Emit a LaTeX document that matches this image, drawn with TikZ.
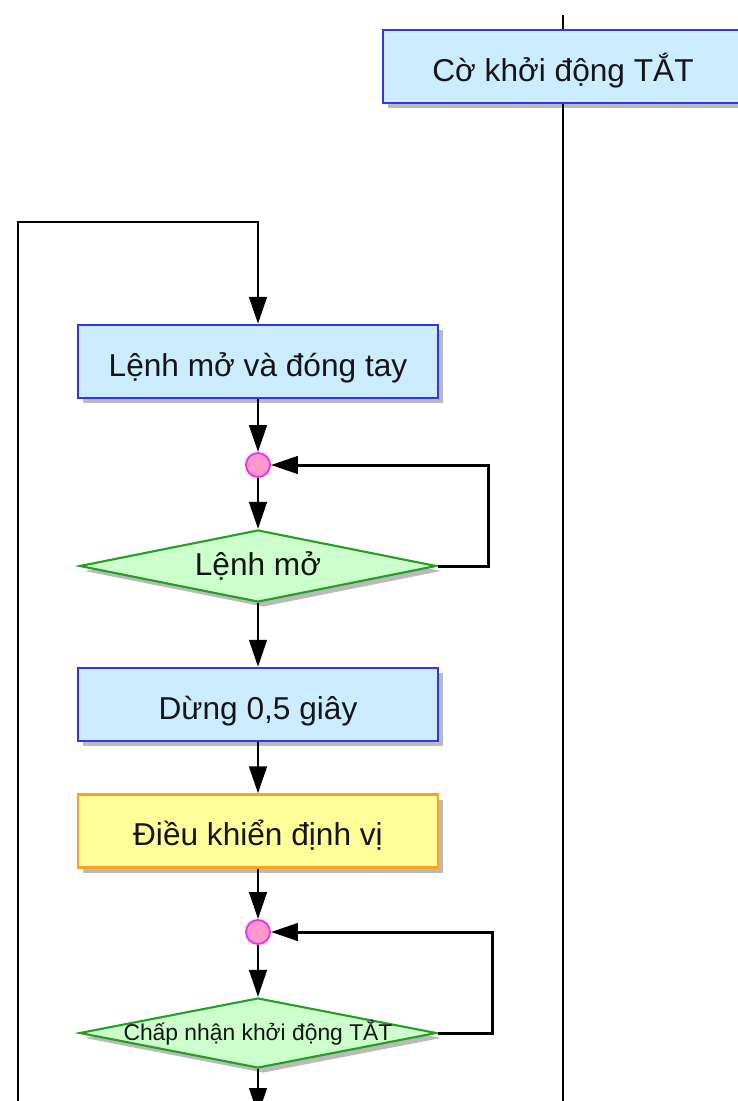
\documentclass[tikz,border=0pt]{standalone}
\usepackage{fontspec}
\setmainfont{Liberation Sans}
\usetikzlibrary{arrows.meta,positioning,shapes.geometric,shadows}
\definecolor{skyfill}{HTML}{CCECFF}
\definecolor{skyline}{HTML}{3333F5}
\definecolor{mintfill}{HTML}{CCFFCC}
\definecolor{mintline}{HTML}{22A022}
\definecolor{lemonfill}{HTML}{FFFF99}
\definecolor{amberline}{HTML}{FFA020}
\definecolor{pinkfill}{HTML}{FF99CC}
\definecolor{pinkline}{HTML}{F030F0}
\definecolor{inktext}{HTML}{151515}
\tikzset{
  softshadow/.style={
    drop shadow={shadow xshift=0.1cm,shadow yshift=-0.1cm,fill=black!45,opacity=0.6}
  },
  procbox/.style={
    draw=skyline,
    fill=skyfill,
    line width=1.3pt,
    minimum width=7.2cm,
    minimum height=1.46cm,
    text height=21.5pt,
    text depth=4.5pt,
    text=inktext,
    font=\fontsize{18}{21}\selectfont,
    softshadow
  },
  ctrlbox/.style={
    procbox,
    draw=amberline,
    fill=lemonfill
  },
  decbox/.style={
    diamond,
    shape aspect=5,
    inner sep=0pt,
    draw=mintline,
    fill=mintfill,
    line width=1.2pt,
    minimum width=7.14cm,
    minimum height=1.44cm,
    text=inktext,
    font=\fontsize{18}{21}\selectfont,
    softshadow
  },
  joindot/.style={circle,draw=pinkline,fill=pinkfill,line width=1.1pt,minimum size=0.48cm,inner sep=0pt},
  flowln/.style={line width=1.7pt,draw=black},
  flowar/.style={flowln,-{Triangle[length=5.4mm,width=3.5mm]}}
}

\begin{document}
\begin{tikzpicture}
  \useasboundingbox (0,0) rectangle (14.74,-22.02);

  \node[procbox]  (flag)   at (11.26, -1.33)  {Cờ khởi động TẮT};
  \node[procbox]  (manual) at ( 5.16, -7.23)  {Lệnh mở và đóng tay};
  \node[joindot]  (join1)  at ( 5.16, -9.30)  {};
  \node[decbox]   (openq)  at ( 5.16, -11.32) {Lệnh mở};
  \node[procbox]  (pause)  at ( 5.16, -14.09) {Dừng 0,5 giây};
  \node[ctrlbox]  (posctl) at ( 5.16, -16.62) {Điều khiển định vị};
  \node[joindot]  (join2)  at ( 5.16, -18.64) {};
  \node[decbox,minimum height=1.40cm,font=\fontsize{13}{15}\selectfont]
                  (accept) at ( 5.16, -20.66) {\makebox[0pt]{Chấp nhận khởi động TẮT}};

  \coordinate (flagin)  at (11.26, -0.30);
  \coordinate (flagout) at (11.26, -22.2);
  \coordinate (loopbot) at ( 0.36, -22.2);
  \coordinate (looptop) at ( 5.16, -4.44);
  \coordinate (exit)    at ( 5.16, -22.3);

  \draw[flowln] (flagin) -- (flag);
  \draw[flowln] (flag) -- (flagout);
  \draw[flowar] (loopbot) |- (looptop) -- (manual);
  \draw[flowar] (manual) -- (join1);
  \draw[flowar] (join1) -- (openq);
  \draw[flowar] (openq.east) -- ++(1.02,0) |- (join1);
  \draw[flowar] (openq) -- (pause);
  \draw[flowar] (pause) -- (posctl);
  \draw[flowar] (posctl) -- (join2);
  \draw[flowar] (join2) -- (accept);
  \draw[flowar] (accept.east) -- ++(1.10,0) |- (join2);
  \draw[flowar] (accept) -- (exit);
\end{tikzpicture}
\end{document}
